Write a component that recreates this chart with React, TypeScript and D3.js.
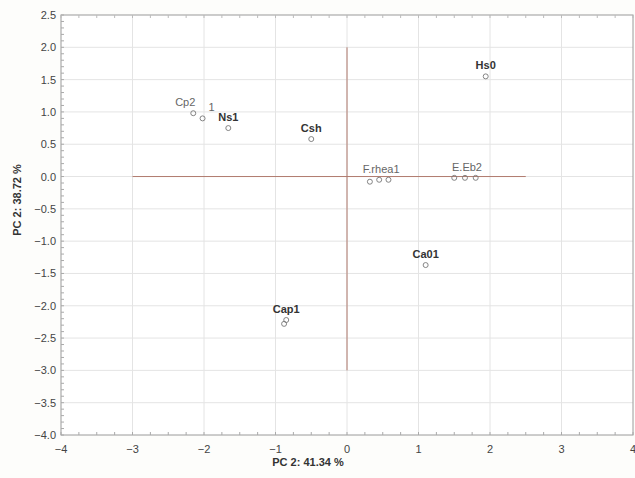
import React, { useEffect, useRef } from 'react';
import * as d3 from 'd3';

// sample scores (PC1, PC2)
const pc1 = [
  -2.15, -2.02, -1.66, -0.5, 1.94,
  0.32, 0.45, 0.58, 1.5, 1.65, 1.8,
  1.1, -0.88, -0.85,
];
const pc2 = [
  0.98, 0.9, 0.75, 0.58, 1.55,
  -0.08, -0.05, -0.05, -0.02, -0.02, -0.02,
  -1.37, -2.28, -2.22,
];

// one label per sample group, anchored on a point of the group
const groupLabels = ['Cp2', '1', 'Ns1', 'Csh', 'Hs0', 'F.rhea1', 'E.Eb2', 'Ca01', 'Cap1'];
const groupAnchor = [0, 1, 2, 3, 4, 6, 9, 11, 13];
const groupBold = [false, false, true, true, true, false, false, true, true];
const groupDx = [-8, 9, 0, 0, 0, 2, 2, 0, 0];

const xTicks = [-4, -3, -2, -1, 0, 1, 2, 3, 4];
const yTicks = d3.range(-4, 2.51, 0.5);

export default function App() {
  const svgRef = useRef<SVGSVGElement>(null);
  const width = 635;
  const height = 478;
  const margin = { top: 15, right: 2, bottom: 43, left: 61 };

  useEffect(() => {
    const svg = d3.select(svgRef.current);
    svg.selectAll('*').remove();

    const x = d3.scaleLinear().domain([-4, 4]).range([margin.left, width - margin.right]);
    const y = d3.scaleLinear().domain([-4, 2.5]).range([height - margin.bottom, margin.top]);
    const font = 'Liberation Sans, Arial, sans-serif';

    svg.append('rect').attr('width', width).attr('height', height).attr('fill', '#fdfdfb');
    svg.append('rect')
      .attr('x', x(-4)).attr('y', y(2.5))
      .attr('width', x(4) - x(-4)).attr('height', y(-4) - y(2.5))
      .attr('fill', '#ffffff');

    // grid
    svg.append('g').selectAll('line').data(xTicks.slice(1, -1)).enter().append('line')
      .attr('x1', (d) => x(d)).attr('x2', (d) => x(d))
      .attr('y1', y(2.5)).attr('y2', y(-4))
      .attr('stroke', '#e4e4e4');
    svg.append('g').selectAll('line').data(yTicks.slice(1, -1)).enter().append('line')
      .attr('y1', (d) => y(d)).attr('y2', (d) => y(d))
      .attr('x1', x(-4)).attr('x2', x(4))
      .attr('stroke', '#e4e4e4');

    // frame
    svg.append('rect')
      .attr('x', x(-4)).attr('y', y(2.5))
      .attr('width', x(4) - x(-4)).attr('height', y(-4) - y(2.5))
      .attr('fill', 'none').attr('stroke', '#9a9a9a');

    // minor ticks
    svg.append('g').selectAll('line').data(d3.range(-4, 2.51, 0.1)).enter().append('line')
      .attr('x1', x(-4)).attr('x2', x(-4) + 3)
      .attr('y1', (d) => y(d)).attr('y2', (d) => y(d))
      .attr('stroke', '#aaa');
    svg.append('g').selectAll('line').data(d3.range(-4, 4.01, 0.25)).enter().append('line')
      .attr('y1', y(-4)).attr('y2', y(-4) - 3)
      .attr('x1', (d) => x(d)).attr('x2', (d) => x(d))
      .attr('stroke', '#aaa');
    svg.append('g').selectAll('line').data(d3.range(-4, 4.01, 0.25)).enter().append('line')
      .attr('y1', y(2.5)).attr('y2', y(2.5) + 3)
      .attr('x1', (d) => x(d)).attr('x2', (d) => x(d))
      .attr('stroke', '#bbb');

    // tick labels
    svg.append('g').selectAll('text').data(xTicks).enter().append('text')
      .attr('x', (d) => x(d)).attr('y', y(-4) + 18)
      .attr('text-anchor', 'middle')
      .attr('font-family', font).attr('font-size', 11).attr('fill', '#444')
      .text((d) => d3.format('d')(d));
    svg.append('g').selectAll('text').data(yTicks).enter().append('text')
      .attr('x', x(-4) - 5).attr('y', (d) => y(d) + 4)
      .attr('text-anchor', 'end')
      .attr('font-family', font).attr('font-size', 11).attr('fill', '#444')
      .text((d) => d3.format('.1f')(d));

    // origin cross lines
    svg.append('line')
      .attr('x1', x(-3)).attr('x2', x(2.5)).attr('y1', y(0)).attr('y2', y(0))
      .attr('stroke', '#b07a6e').attr('stroke-width', 1);
    svg.append('line')
      .attr('x1', x(0)).attr('x2', x(0)).attr('y1', y(2)).attr('y2', y(-3))
      .attr('stroke', '#b07a6e').attr('stroke-width', 1);

    // points
    const idx = d3.range(pc1.length);
    svg.append('g').selectAll('circle').data(idx).enter().append('circle')
      .attr('cx', (i) => x(pc1[i])).attr('cy', (i) => y(pc2[i]))
      .attr('r', 2.5).attr('fill', 'none').attr('stroke', '#777').attr('stroke-width', 0.9);

    const gi = d3.range(groupLabels.length);
    svg.append('g').selectAll('text').data(gi).enter().append('text')
      .attr('x', (i) => x(pc1[groupAnchor[i]]) + groupDx[i])
      .attr('y', (i) => y(pc2[groupAnchor[i]]) - 7)
      .attr('text-anchor', 'middle')
      .attr('font-family', font).attr('font-size', 11)
      .attr('font-weight', (i) => (groupBold[i] ? 'bold' : 'normal'))
      .attr('fill', (i) => (groupBold[i] ? '#333' : '#666'))
      .text((i) => groupLabels[i]);

    // axis titles
    svg.append('text')
      .attr('x', 308).attr('y', 466)
      .attr('text-anchor', 'middle')
      .attr('font-family', font).attr('font-size', 11).attr('font-weight', 'bold').attr('fill', '#333')
      .text('PC 2: 41.34 %');
    svg.append('text')
      .attr('transform', `translate(21,${200}) rotate(-90)`)
      .attr('text-anchor', 'middle')
      .attr('font-family', font).attr('font-size', 11).attr('font-weight', 'bold').attr('fill', '#333')
      .text('PC 2: 38.72 %');
  }, []);

  return (
    <svg ref={svgRef} width={width} height={height}
      style={{ position: 'absolute', left: 0, top: 0, display: 'block' }} />
  );
}
